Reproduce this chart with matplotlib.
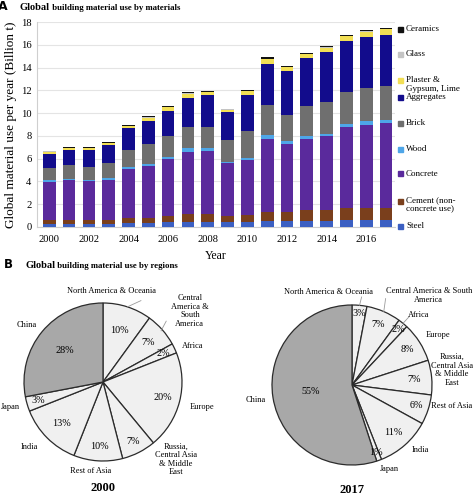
import numpy as np
import matplotlib
matplotlib.use('Agg')
import matplotlib.pyplot as plt
from matplotlib.patches import Rectangle

plt.rcParams['font.family'] = ['Liberation Serif', 'DejaVu Serif']

# ---- panel A data (billion t) ----
years = list(range(2000, 2018))
steel = [0.30, 0.30, 0.30, 0.30, 0.35, 0.35, 0.40, 0.45, 0.45, 0.40, 0.40, 0.50, 0.50, 0.50, 0.50, 0.60, 0.60, 0.60]
cement = [0.35, 0.35, 0.35, 0.35, 0.45, 0.45, 0.55, 0.65, 0.65, 0.55, 0.65, 0.80, 0.80, 0.95, 1.00, 1.05, 1.05, 1.05]
concrete = [3.30, 3.45, 3.35, 3.50, 4.30, 4.55, 5.00, 5.50, 5.55, 4.65, 4.80, 6.45, 5.95, 6.30, 6.45, 7.10, 7.35, 7.45]
wood = [0.15, 0.15, 0.15, 0.15, 0.20, 0.20, 0.20, 0.30, 0.30, 0.15, 0.25, 0.30, 0.30, 0.25, 0.25, 0.30, 0.35, 0.30]
brick = [1.10, 1.20, 1.15, 1.35, 1.50, 1.75, 1.85, 1.90, 1.85, 1.85, 2.35, 2.65, 2.30, 2.60, 2.80, 2.80, 2.85, 3.00]
aggregates = [1.20, 1.35, 1.45, 1.55, 1.85, 2.05, 2.20, 2.55, 2.75, 2.50, 3.15, 3.65, 3.85, 4.20, 4.35, 4.50, 4.50, 4.50]
plaster = [0.20, 0.15, 0.15, 0.15, 0.20, 0.25, 0.30, 0.35, 0.30, 0.20, 0.30, 0.40, 0.35, 0.35, 0.40, 0.40, 0.45, 0.45]
glass = [0.03] * 18
ceramics = [0.07, 0.07, 0.07, 0.12, 0.12, 0.12, 0.09, 0.09, 0.10, 0.07, 0.10, 0.15, 0.10, 0.14, 0.10, 0.12, 0.12, 0.12]

materials = ['Steel', 'Cement (non-\nconcrete use)', 'Concrete', 'Wood', 'Brick',
             'Aggregates', 'Plaster &\nGypsum, Lime', 'Glass', 'Ceramics']
series = [steel, cement, concrete, wood, brick, aggregates, plaster, glass, ceramics]
colors = ['#3b5fc2', '#7a3f1c', '#5a2a9c', '#4ea6e8', '#6f6f6f',
          '#120c8c', '#f2df55', '#c4c4c4', '#111111']

# ---- panel B data (% share) ----
regions = ['North America & Oceania', 'Central\nAmerica &\nSouth\nAmerica', 'Africa', 'Europe',
           'Russia,\nCentral Asia\n& Middle\nEast', 'Rest of Asia', 'India', 'Japan', 'China']
regions_2017 = ['North America & Oceania', 'Central America & South\nAmerica', 'Africa', 'Europe',
                'Russia,\nCentral Asia\n& Middle\nEast', 'Rest of Asia', 'India', 'Japan', 'China']
share_2000 = [10, 7, 2, 20, 7, 10, 13, 3, 28]
share_2017 = [3, 7, 2, 8, 7, 6, 11, 1, 55]

W, H = 474, 497
fig = plt.figure(figsize=(W / 100, H / 100), dpi=100)

def fx(px):
    return px / W

def fy(py):
    return 1 - py / H

# ---------------- panel A ----------------
ax = fig.add_axes([fx(37), fy(227), fx(395) - fx(37), fy(22) - fy(227)])
bottom = np.zeros(len(years))
for vals, c in zip(series, colors):
    ax.bar(years, vals, width=0.64, bottom=bottom, color=c, linewidth=0, zorder=3)
    bottom += np.array(vals)

ax.set_ylim(0, 18)
ax.set_yticks(range(0, 19, 2))
ax.set_xlim(1999.38, 2017.45)
ax.set_xticks(range(2000, 2017, 2))
ax.tick_params(axis='both', labelsize=7.6, length=0, pad=4)
ax.tick_params(axis='x', pad=6)
ax.grid(axis='y', color='#e4e4e4', linewidth=0.8, zorder=0)
for s in ['top', 'right']:
    ax.spines[s].set_visible(False)
ax.spines['left'].set_color('#cfcfcf')
ax.spines['bottom'].set_color('#cfcfcf')
ax.set_xlabel('Year', fontsize=8.5, labelpad=4)
ax.set_ylabel('Global material use per year (Billion t)', fontsize=9.5, labelpad=3)

# legend drawn like the Excel one: top to bottom, marker on first line
leg_y = [29, 54, 81, 97, 123, 149, 174, 201, 226]
for (name, c), yy in zip(list(zip(materials, colors))[::-1], leg_y):
    fig.add_artist(Rectangle((fx(398), fy(yy + 2.5)), fx(5), fx(5) * W / H,
                             color=c, transform=fig.transFigure))
    if '\n' in name:
        fig.text(fx(406), fy(yy - 4.5), name, fontsize=6.5, va='top', ha='left', linespacing=1.05)
    else:
        fig.text(fx(406), fy(yy), name, fontsize=6.5, va='center', ha='left')

fig.text(fx(-2), fy(7), 'A', fontsize=9, fontweight='bold', family='DejaVu Sans', va='center')
t = fig.text(fx(20), fy(8), 'Global', fontsize=7.5, fontweight='bold', va='center')
ax.annotate(' building material use by materials', xy=(1, 0), xycoords=t,
            fontsize=6.3, fontweight='bold', va='bottom', ha='left', annotation_clip=False)

# ---------------- panel B ----------------
fig.text(fx(4), fy(265), 'B', fontsize=8.5, fontweight='bold', family='DejaVu Sans', va='center')
tb = fig.text(fx(25), fy(265), 'Global', fontsize=7.5, fontweight='bold', va='center')
ax.annotate(' building material use by regions', xy=(1, 0), xycoords=tb,
            fontsize=6.3, fontweight='bold', va='bottom', ha='left', annotation_clip=False)

pie_fill = ['#f0f0f0'] * 8 + ['#a8a8a8']

# label offsets (in pie radii) and percent radius, per wedge
lab_2000 = [(0.11, 1.15), (1.1, 0.9), (1.13, 0.46), (1.25, -0.32), (0.92, -0.98),
            (-0.16, -1.13), (-0.93, -0.82), (-1.17, -0.32), (-0.97, 0.72)]
pct_r_2000 = [0.68, 0.76, 0.84, 0.78, 0.85, 0.82, 0.75, 0.85, 0.63]
lab_2017 = [(-0.29, 1.16), (0.96, 1.12), (0.83, 0.88), (1.07, 0.62), (1.25, 0.19),
            (1.25, -0.26), (0.86, -0.81), (0.47, -1.05), (-1.2, -0.19)]
pct_r_2017 = [0.90, 0.83, 0.9, 0.82, 0.78, 0.84, 0.79, 0.9, 0.52]
# short leader lines (wedge index, start radius, end point)
lead_2000 = [(0, 1.0, (0.48, 1.03)), (1, 0.98, (0.8, 0.77))]
lead_2017 = [(0, 1.0, (0.12, 1.1)), (1, 1.0, (0.42, 1.08)), (2, 1.0, (0.72, 0.86))]


def draw_pie(cx, cy, r, shares, names, labpos, pct_r, leaders, year, year_y):
    pax = fig.add_axes([fx(cx - r), fy(cy + r), fx(2 * r), fy(cy - r) - fy(cy + r)])
    wedges, _ = pax.pie(shares, colors=pie_fill, startangle=90, counterclock=False,
                        wedgeprops=dict(edgecolor='#2b2b2b', linewidth=0.9))
    pax.set_xlim(-1, 1)
    pax.set_ylim(-1, 1)
    pax.axis('off')
    for w, s, name, (lx, ly), pr in zip(wedges, shares, names, labpos, pct_r):
        mid = np.deg2rad((w.theta1 + w.theta2) / 2)
        pax.text(pr * np.cos(mid), pr * np.sin(mid), f'{s}%', fontsize=7.3,
                 ha='center', va='center', clip_on=False)
        pax.text(lx, ly, name, fontsize=6.0, ha='center', va='center',
                 linespacing=1.1, clip_on=False)
    for i, r0, (ex, ey) in leaders:
        w = wedges[i]
        mid = np.deg2rad((w.theta1 + w.theta2) / 2)
        pax.plot([r0 * np.cos(mid), ex], [r0 * np.sin(mid), ey], color='#9a9a9a',
                 linewidth=0.6, clip_on=False)
    fig.text(fx(cx), fy(year_y), year, fontsize=9, fontweight='bold', ha='center', va='center')


draw_pie(103, 382, 79, share_2000, regions, lab_2000, pct_r_2000, lead_2000, '2000', 488)
draw_pie(352, 385, 80, share_2017, regions_2017, lab_2017, pct_r_2017, lead_2017, '2017', 490)

fig.savefig('out.png', dpi=100)
